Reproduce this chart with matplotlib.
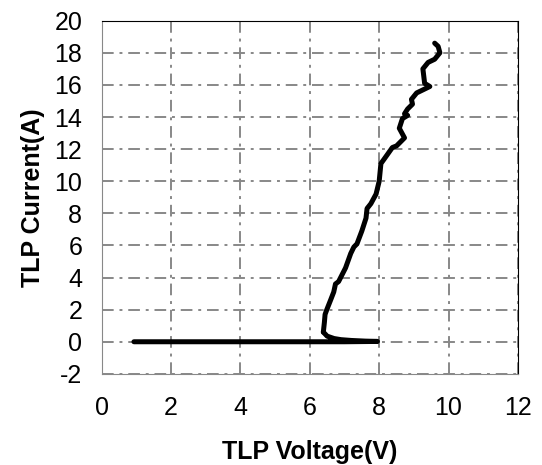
import matplotlib
matplotlib.use('Agg')
import matplotlib.pyplot as plt

plt.rcParams['font.family'] = ['Liberation Sans', 'DejaVu Sans']
plt.rcParams['axes.unicode_minus'] = False

# ветка до пробоя (ток ~0) и обратный ход к точке удержания
v_off = [0.93, 2.0, 4.0, 6.0, 7.0, 7.95, 7.6, 7.2, 6.9, 6.7, 6.5, 6.39]
i_off = [0.0, 0.0, 0.0, 0.0, 0.0, 0.02, 0.04, 0.08, 0.13, 0.2, 0.35, 0.6]

# ветка после снапбэка
v_on = [6.39, 6.42, 6.44, 6.49, 6.6, 6.69, 6.74, 6.83, 7.03, 7.18, 7.27, 7.36,
        7.5, 7.62, 7.65, 7.76, 7.91, 8.0, 8.05, 8.15, 8.38, 8.5, 8.73, 8.58,
        8.67, 8.82, 8.73, 8.82, 8.96, 8.93, 9.08, 9.46, 9.31, 9.26, 9.41, 9.6,
        9.75, 9.7, 9.6]
i_on = [0.6, 1.2, 1.7, 2.0, 2.6, 3.1, 3.6, 3.75, 4.6, 5.5, 5.9, 6.1,
        6.9, 7.7, 8.3, 8.6, 9.2, 10.0, 11.1, 11.4, 12.1, 12.2, 12.7, 13.3,
        13.9, 14.1, 14.2, 14.5, 14.8, 15.1, 15.5, 15.9, 16.1, 17.0, 17.4, 17.6,
        18.0, 18.4, 18.6]

x_ticks = [0, 2, 4, 6, 8, 10, 12]
y_ticks = [-2, 0, 2, 4, 6, 8, 10, 12, 14, 16, 18, 20]

fig = plt.figure(figsize=(5.42, 4.65), dpi=100)
ax = fig.add_axes([0.1876, 0.196, 0.768, 0.7595])

ax.plot(v_off, i_off, color='black', lw=3.6, solid_capstyle='round')
ax.plot(v_on, i_on, color='black', lw=3.6, solid_capstyle='round', solid_joinstyle='round')

ax.set_xlim(0, 12)
ax.set_ylim(-2, 20)
ax.set_xticks(x_ticks)
ax.set_yticks(y_ticks)
ax.tick_params(axis='x', labelsize=18, length=0, pad=16)
ax.tick_params(axis='y', labelsize=18, length=0, pad=14)
ax.grid(color='#888888', linestyle=(0, (6, 3, 1.5, 3)), linewidth=1.4)
ax.spines['left'].set_color('#888888')
ax.spines['bottom'].set_color('#888888')
ax.spines['top'].set_color('black')
ax.spines['right'].set_color('black')

ax.set_xlabel('TLP Voltage(V)', fontsize=18, fontweight='bold', va='center')
ax.set_ylabel('TLP Current(A)', fontsize=18, fontweight='bold', va='center')
ax.xaxis.set_label_coords(0.5, -0.221)
ax.yaxis.set_label_coords(-0.165, 0.5)

fig.savefig('out.png', dpi=100)
